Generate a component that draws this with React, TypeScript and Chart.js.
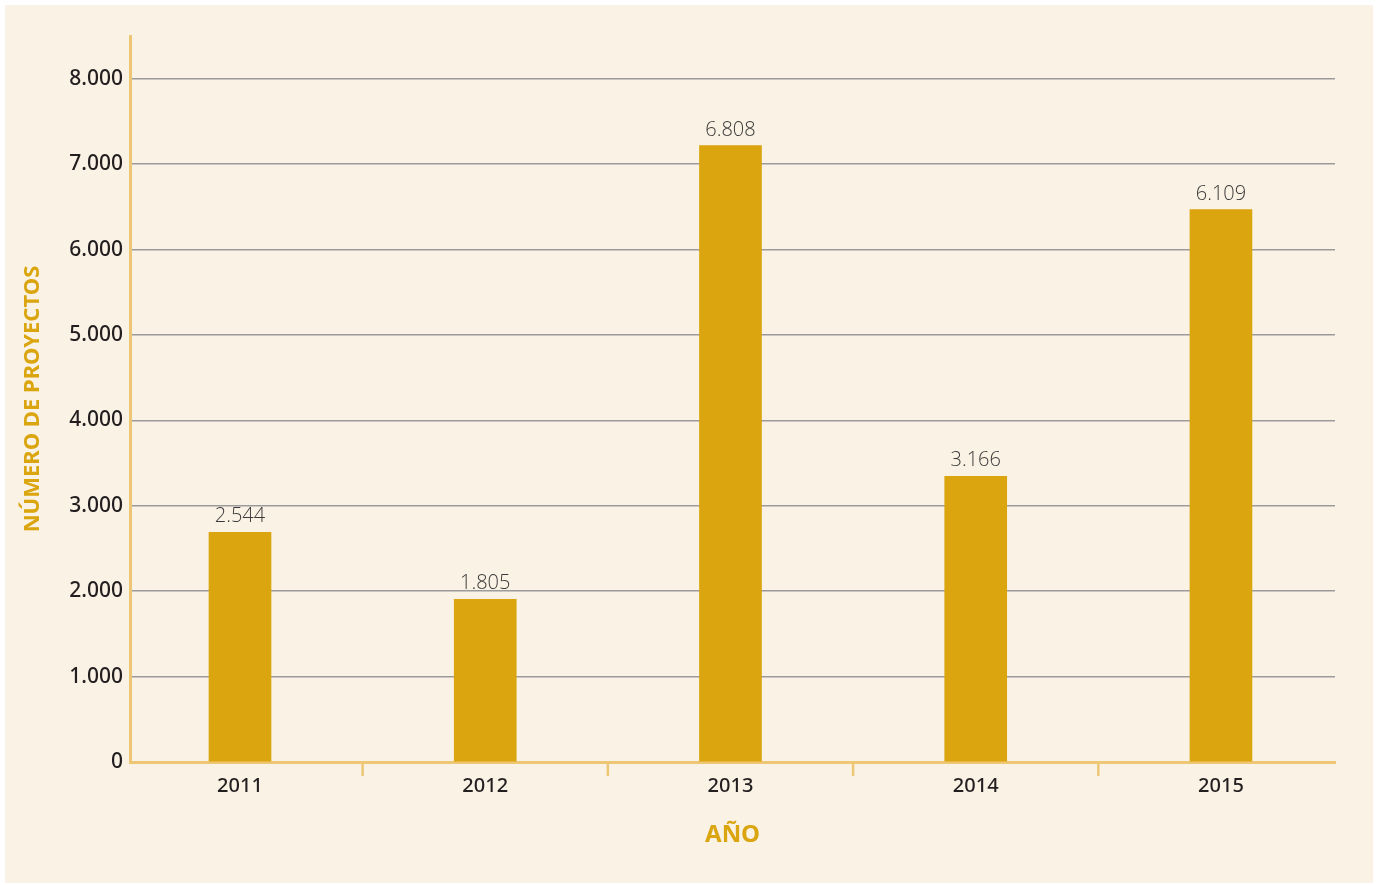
import { useEffect, useRef } from "react";
import { Chart, registerables } from "chart.js";

Chart.register(...registerables);

const YEARS = ["2011", "2012", "2013", "2014", "2015"];
// bar heights as drawn in the picture
const BAR_VALUES = [2690, 1906, 7216, 3345, 6468];
// values printed above the bars
const VALUE_LABELS = ["2.544", "1.805", "6.808", "3.166", "6.109"];
const Y_TICKS = [0, 1000, 2000, 3000, 4000, 5000, 6000, 7000, 8000];
const Y_TITLE = "NÚMERO DE PROYECTOS";
const X_TITLE = "AÑO";

const GOLD = "#DAA50E";
const AXIS_GOLD = "#EEC775";
const PANEL = "#FAF2E4";
const TEXT = "#231F20";

const fmt = (v: number) => String(v).replace(/\B(?=(\d{3})+(?!\d))/g, ".");

export default function App() {
  const ref = useRef<HTMLCanvasElement | null>(null);

  useEffect(() => {
    document.body.style.margin = "0";
    const canvas = ref.current;
    if (!canvas) return;

    const bgPlugin = {
      id: "bg",
      beforeDraw(chart: any) {
        const { ctx, width, height } = chart;
        ctx.save();
        ctx.fillStyle = "#FFFFFF";
        ctx.fillRect(0, 0, width, height);
        ctx.fillStyle = PANEL;
        ctx.fillRect(5, 5, width - 10, height - 7);
        ctx.restore();
      },
    };

    const sepPlugin = {
      id: "separators",
      afterDraw(chart: any) {
        const { ctx } = chart;
        const x = chart.scales.x;
        const y0 = chart.chartArea.bottom;
        ctx.save();
        ctx.strokeStyle = AXIS_GOLD;
        ctx.lineWidth = 2.5;
        for (let i = 0; i < YEARS.length - 1; i++) {
          const px = x.getPixelForValue(i + 0.5);
          ctx.beginPath();
          ctx.moveTo(px, y0);
          ctx.lineTo(px, y0 + 14);
          ctx.stroke();
        }
        ctx.restore();
      },
    };

    const labelPlugin = {
      id: "valueLabels",
      afterDatasetsDraw(chart: any) {
        const { ctx } = chart;
        const meta = chart.getDatasetMeta(0);
        ctx.save();
        ctx.fillStyle = "#3A3A3A";
        ctx.font = '300 20px "Open Sans", "Noto Sans", sans-serif';
        ctx.textAlign = "center";
        ctx.textBaseline = "alphabetic";
        meta.data.forEach((bar: any, i: number) => {
          ctx.fillText(VALUE_LABELS[i], bar.x, bar.y - 10);
        });
        ctx.restore();
      },
    };

    const chart = new Chart(canvas, {
      type: "bar",
      data: {
        datasets: [
          {
            data: BAR_VALUES.map((v, i) => ({ x: i, y: v })),
            backgroundColor: GOLD,
            borderWidth: 0,
            barThickness: 62,
          },
        ],
      },
      options: {
        animation: false,
        responsive: false,
        layout: { padding: { top: 36, right: 43, left: 0, bottom: 0 } },
        plugins: {
          legend: { display: false },
          tooltip: { enabled: false },
        },
        scales: {
          x: {
            type: "linear",
            offset: false,
            min: -0.4485,
            max: 4.465,
            afterBuildTicks: (s: any) => {
              s.ticks = YEARS.map((_, i) => ({ value: i }));
            },
            afterFit: (s: any) => {
              s.height = 123;
            },
            grid: { display: false, drawTicks: false, offset: false },
            border: { display: true, color: AXIS_GOLD, width: 3 },
            ticks: {
              callback: (v: any) => YEARS[v as number] ?? "",
              color: TEXT,
              font: { family: '"Noto Sans", sans-serif', size: 20, weight: 500 },
              padding: 12,
              maxRotation: 0,
              autoSkip: false,
            },
            title: {
              display: true,
              text: X_TITLE,
              color: GOLD,
              font: { family: '"Noto Sans", sans-serif', size: 24, weight: "bold" },
              padding: { top: 0, bottom: 35 },
            },
          },
          y: {
            type: "linear",
            min: 0,
            max: 8500,
            afterBuildTicks: (s: any) => {
              s.ticks = Y_TICKS.map((v) => ({ value: v }));
            },
            afterFit: (s: any) => {
              s.width = 130;
            },
            grid: { color: "#9B9B9B", lineWidth: 1.5, drawTicks: false },
            border: { display: true, color: AXIS_GOLD, width: 3 },
            ticks: {
              callback: (v: any) => fmt(v as number),
              color: TEXT,
              font: { family: '"Noto Sans", sans-serif', size: 21, weight: 500 },
              padding: 7,
            },
            title: {
              display: true,
              text: Y_TITLE,
              color: GOLD,
              font: { family: '"Noto Sans", sans-serif', size: 22, weight: "bold" },
              padding: { top: 20, bottom: 0 },
            },
          },
        },
      },
      plugins: [bgPlugin, sepPlugin, labelPlugin],
    });

    return () => chart.destroy();
  }, []);

  return (
    <div style={{ width: 1378, height: 885 }}>
      <canvas ref={ref} width={1378} height={885} style={{ display: "block" }} />
    </div>
  );
}
